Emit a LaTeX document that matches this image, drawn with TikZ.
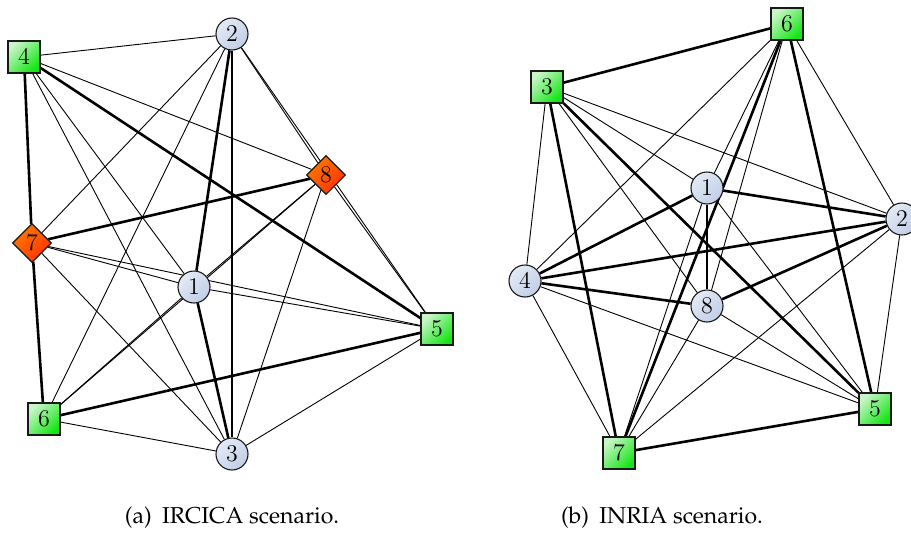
\documentclass[tikz,border=0pt]{standalone}
\usepackage[T1,TU]{fontenc}
\usepackage{tikz}
\usetikzlibrary{shapes.geometric,backgrounds}
\definecolor{ndline}{RGB}{25,25,25}
\definecolor{ndbluelt}{RGB}{228,234,245}
\definecolor{ndbluedk}{RGB}{192,206,230}
\definecolor{ndgreenlt}{RGB}{200,245,200}
\definecolor{ndgreendk}{RGB}{20,230,20}
\definecolor{ndorange}{RGB}{255,120,0}
\definecolor{ndred}{RGB}{255,50,0}
\newcommand{\capfont}{\fontencoding{T1}\fontfamily{ppl}\selectfont}
\tikzset{
  relay/.style={circle, draw=ndline, line width=0.55pt, top color=ndbluelt,
    bottom color=ndbluedk, shading angle=45, minimum size=16pt, inner sep=0pt,
    font=\fontsize{12.5}{14}\selectfont},
  sensor/.style={rectangle, draw=ndline, line width=0.55pt, top color=ndgreenlt,
    bottom color=ndgreendk, shading angle=45, minimum size=16pt, inner sep=0pt,
    font=\fontsize{12.5}{14}\selectfont},
  sink/.style={diamond, draw=ndline, line width=0.55pt, top color=ndorange,
    bottom color=ndred, shading angle=45, minimum size=19.5pt, inner sep=0pt,
    font=\fontsize{12.5}{14}\selectfont},
  weak/.style={line width=0.45pt},
  strong/.style={line width=1.3pt},
}

\begin{document}
\begin{tikzpicture}[x=0.5pt,y=-0.5pt]
    \useasboundingbox (0,0) rectangle (911,541);
    % (a) IRCICA
    \node[relay]  (a1) at (194,287) {$1$};
    \node[relay]  (a2) at (232,34)  {$2$};
    \node[relay]  (a3) at (232,454) {$3$};
    \node[sensor] (a4) at (24,57)   {$4$};
    \node[sensor] (a5) at (437,329) {$5$};
    \node[sensor] (a6) at (44,419)  {$6$};
    \node[sink]   (a7) at (32,243)  {$7$};
    \node[sink]   (a8) at (326,175) {$8$};
    % (b) INRIA
    \node[relay]  (b1) at (707,188) {$1$};
    \node[relay]  (b2) at (902,219) {$2$};
    \node[sensor] (b3) at (547,87)  {$3$};
    \node[relay]  (b4) at (525,281) {$4$};
    \node[sensor] (b5) at (875,409) {$5$};
    \node[sensor] (b6) at (787,24)  {$6$};
    \node[sensor] (b7) at (619,453) {$7$};
    \node[relay]  (b8) at (707,306) {$8$};
    \begin{scope}[on background layer]
      \foreach \u/\v in {a4/a2,a4/a8,a4/a3,a4/a1,a2/a7,a2/a6,a2/a5,a2/a8,a8/a5,
          a8/a3,a8/a1,a8/a6,a6/a1,a7/a1,a7/a5,a1/a5,a7/a3,a5/a3,a6/a3}
        \draw[weak] (\u) -- (\v);
      \foreach \u/\v in {a4/a7,a4/a5,a7/a8,a7/a6,a2/a1,a2/a3,a1/a3,a6/a5}
        \draw[strong] (\u) -- (\v);
      \foreach \u/\v in {b6/b4,b6/b1,b6/b8,b6/b2,b3/b4,b3/b8,b3/b1,b3/b2,b1/b7,
          b1/b5,b2/b7,b2/b5,b4/b5,b4/b7,b8/b5,b8/b7}
        \draw[weak] (\u) -- (\v);
      \foreach \u/\v in {b3/b6,b6/b7,b6/b5,b3/b7,b3/b5,b1/b2,b1/b4,b1/b8,b2/b4,
          b2/b8,b4/b8,b7/b5}
        \draw[strong] (\u) -- (\v);
    \end{scope}
    \node[font=\capfont\fontsize{11.5}{14}\selectfont] (capa) at (232,518)
      {(a)\hspace{0.45em}IRCICA scenario.};
    \node[font=\capfont\fontsize{11.5}{14}\selectfont] (capb) at (662,518)
      {(b)\hspace{0.45em}INRIA scenario.};
  \end{tikzpicture}
\end{document}
